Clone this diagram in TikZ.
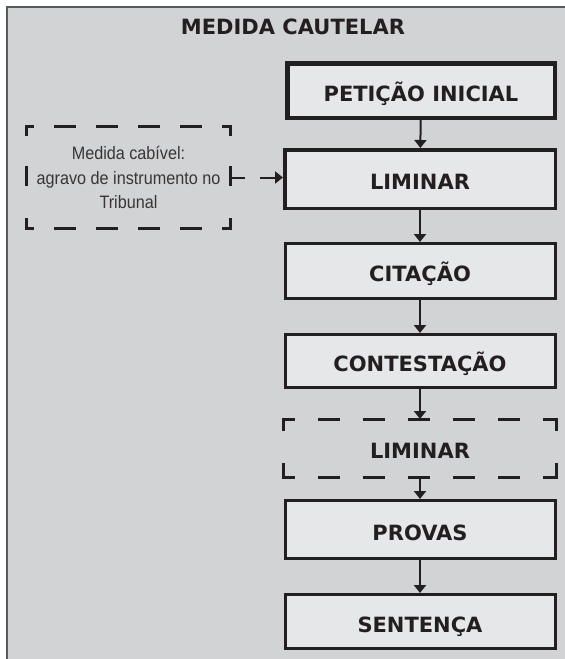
\documentclass[tikz,border=0pt]{standalone}
\usepackage{fontspec}
\setmainfont{DejaVu Sans}
\newfontfamily\narrowfont[FakeStretch=0.9]{Liberation Sans}
\usetikzlibrary{arrows.meta}

\definecolor{panelgray}{HTML}{D1D3D4}
\definecolor{boxgray}{HTML}{E6E7E8}
\definecolor{ink}{HTML}{231F20}
\definecolor{framegray}{HTML}{58595B}

\begin{document}
\begin{tikzpicture}[x=1pt,y=-1pt]
	\tikzset{stage/.style={draw=ink,fill=boxgray,line width=3pt,minimum width=270pt,minimum height=55pt,text height=21pt,text depth=0pt,font=\fontsize{21}{25}\selectfont\bfseries,text=ink}}
	\tikzset{optstage/.style={stage,draw=none,fill=none}}
	\tikzset{flow/.style={draw=ink,line width=2pt,-{Triangle[width=12pt,length=8pt]}}}
	\tikzset{hdash/.style={draw=ink,line width=3pt,line cap=rect,dash pattern=on 19pt off 26pt,dash phase=9.5pt}}
	\tikzset{vdash/.style={draw=ink,line width=3pt,line cap=rect,dash pattern=on 10pt off 35pt}}
	\tikzset{notehdash/.style={draw=ink,line width=3pt,line cap=rect,dash pattern=on 19pt off 23pt,dash phase=12.5pt}}
	\tikzset{notevdash/.style={draw=ink,line width=3pt,line cap=rect,dash pattern=on 8.5pt off 33pt on 17pt off 35pt}}

	\useasboundingbox (0,0) rectangle (565,659);
	\fill[panelgray] (7,7) rectangle (580,670);
	\draw[framegray,line width=2pt] (7,670) -- (7,7) -- (580,7);

	\node[font=\fontsize{21}{25}\selectfont\bfseries,text=ink,anchor=base] (title) at (293,34) {MEDIDA CAUTELAR};

	\node[stage,line width=4.5pt,minimum width=267.5pt,minimum height=54.5pt] (peticao) at (421,90.5) {PETIÇÃO INICIAL};
	\node[stage,line width=3.5pt,minimum width=270.5pt,minimum height=58.5pt] (liminar) at (420,179) {LIMINAR};
	\node[stage] (citacao) at (420,271) {CITAÇÃO};
	\node[stage,minimum height=53pt] (contestacao) at (420,361) {CONTESTAÇÃO};
	\node[optstage] (liminaropt) at (420,448) {LIMINAR};
	\node[stage,minimum height=58pt] (provas) at (420,529.5) {PROVAS};
	\node[stage,minimum height=54pt] (sentenca) at (420,621.5) {SENTENÇA};

	\node[minimum width=204pt,minimum height=102pt,align=center,text=ink!90,font=\narrowfont\fontsize{18}{24.5}\selectfont] (medida) at (128.5,177.5) {Medida cabível:\\agravo de instrumento no\\Tribunal};

	\draw[hdash] (liminaropt.north west) -- (liminaropt.north east);
	\draw[hdash] (liminaropt.south west) -- (liminaropt.south east);
	\draw[vdash] (liminaropt.north west) -- (liminaropt.south west);
	\draw[vdash] (liminaropt.north east) -- (liminaropt.south east);

	\draw[notehdash] (medida.north west) -- (medida.north east);
	\draw[notehdash] (medida.south west) -- (medida.south east);
	\draw[notevdash] (medida.north west) -- (medida.south west);
	\draw[notevdash] (medida.north east) -- (medida.south east);

	\draw[flow] (peticao) -- (liminar);
	\draw[flow] (liminar) -- (citacao);
	\draw[flow] (citacao) -- (contestacao);
	\draw[flow] (contestacao) -- (liminaropt);
	\draw[flow] (liminaropt) -- (provas);
	\draw[flow] (provas) -- (sentenca);
	\draw[flow,dash pattern=on 14.5pt off 15pt on 100pt] (medida.east) -- (medida.east -| liminar.west);

\end{tikzpicture}
\end{document}
